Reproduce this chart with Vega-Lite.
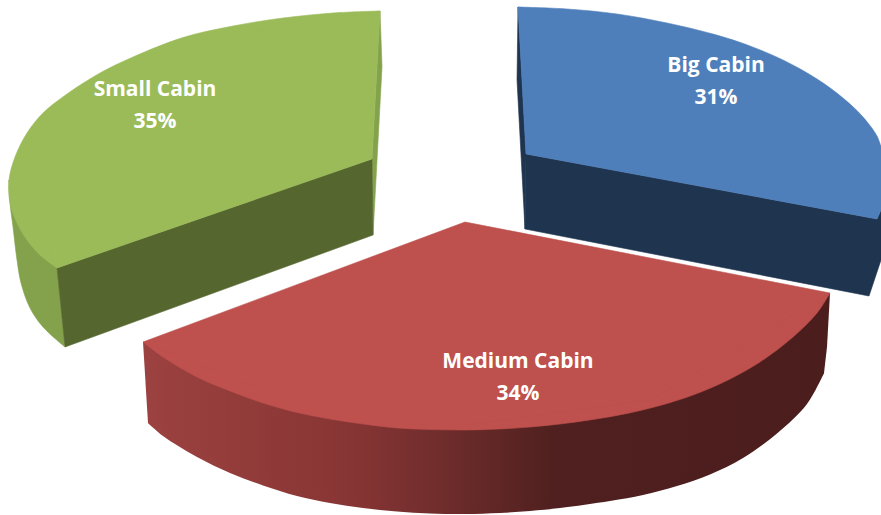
{
  "$schema": "https://vega.github.io/schema/vega-lite/v6.json",
  "width": 881,
  "height": 515,
  "padding": 0,
  "autosize": {"type": "none"},
  "background": "white",
  "config": {"view": {"stroke": null}},
  "datasets": {
    "redRimEdge": [
      {"i":1,"x":148,"y":423},{"i":2,"x":163,"y":436},{"i":3,"x":197,"y":457},{"i":4,"x":230,"y":473},{"i":5,"x":263,"y":485.5},{"i":6,"x":297,"y":496},{"i":7,"x":330,"y":503},{"i":8,"x":363,"y":508},{"i":9,"x":397,"y":511.5},{"i":10,"x":430,"y":513.5},{"i":11,"x":465,"y":514},{"i":12,"x":500,"y":513},{"i":13,"x":530,"y":511},{"i":14,"x":560,"y":508},{"i":15,"x":610,"y":501},{"i":16,"x":643,"y":495},{"i":17,"x":677,"y":486},{"i":18,"x":710,"y":474.5},{"i":19,"x":743,"y":458},{"i":20,"x":777,"y":433.5},{"i":21,"x":807,"y":404},{"i":22,"x":824,"y":373}
    ],
    "redRimBody": [
      {"i":1,"x":143,"y":342},{"i":2,"x":830,"y":293},{"i":3,"x":827,"y":347},{"i":4,"x":824,"y":373},{"i":5,"x":805,"y":402},{"i":6,"x":775,"y":431},{"i":7,"x":740,"y":455},{"i":8,"x":600,"y":498},{"i":9,"x":400,"y":508},{"i":10,"x":230,"y":468},{"i":11,"x":165,"y":433},{"i":12,"x":148,"y":423}
    ],
    "flatFaces": [
      {"face":"greenRim","i":1,"x":9,"y":180},{"face":"greenRim","i":2,"x":14,"y":225},{"face":"greenRim","i":3,"x":28,"y":285},{"face":"greenRim","i":4,"x":65,"y":347},{"face":"greenRim","i":5,"x":57,"y":268},
      {"face":"greenStrip","i":1,"x":380,"y":11},{"face":"greenStrip","i":2,"x":382,"y":67},{"face":"greenStrip","i":3,"x":373,"y":235},{"face":"greenStrip","i":4,"x":372,"y":159},
      {"face":"greenCut","i":1,"x":57,"y":268},{"face":"greenCut","i":2,"x":372,"y":159},{"face":"greenCut","i":3,"x":373,"y":235},{"face":"greenCut","i":4,"x":65,"y":347},
      {"face":"blueStrip","i":1,"x":518,"y":7},{"face":"blueStrip","i":2,"x":517,"y":80},{"face":"blueStrip","i":3,"x":525,"y":229},{"face":"blueStrip","i":4,"x":526,"y":154},
      {"face":"blueCut","i":1,"x":526,"y":154},{"face":"blueCut","i":2,"x":877,"y":219},{"face":"blueCut","i":3,"x":881,"y":210},{"face":"blueCut","i":4,"x":881,"y":260},{"face":"blueCut","i":5,"x":869,"y":296},{"face":"blueCut","i":6,"x":525,"y":229}
    ],
    "curvedEdges": [
      {"face":"greenRim","i":1,"x":9,"y":180},{"face":"greenRim","i":2,"x":10,"y":203},{"face":"greenRim","i":3,"x":13,"y":227},{"face":"greenRim","i":4,"x":17,"y":260},{"face":"greenRim","i":5,"x":21,"y":283},{"face":"greenRim","i":6,"x":30,"y":308},{"face":"greenRim","i":7,"x":43,"y":327},{"face":"greenRim","i":8,"x":65,"y":347},

      {"face":"greenTop","i":1,"x":380,"y":11},{"face":"greenTop","i":2,"x":333,"y":13},{"face":"greenTop","i":3,"x":283,"y":18},{"face":"greenTop","i":4,"x":233,"y":26},{"face":"greenTop","i":5,"x":183,"y":37.5},{"face":"greenTop","i":6,"x":133,"y":57},{"face":"greenTop","i":7,"x":100,"y":73},{"face":"greenTop","i":8,"x":67,"y":94},{"face":"greenTop","i":9,"x":43,"y":113},{"face":"greenTop","i":10,"x":27,"y":133},{"face":"greenTop","i":11,"x":15,"y":157},{"face":"greenTop","i":12,"x":9,"y":180},{"face":"greenTop","i":13,"x":10,"y":203},{"face":"greenTop","i":14,"x":17,"y":223},{"face":"greenTop","i":15,"x":27,"y":240},{"face":"greenTop","i":16,"x":40,"y":255},{"face":"greenTop","i":17,"x":57,"y":268},

      {"face":"blueTop","i":1,"x":518,"y":7},{"face":"blueTop","i":2,"x":567,"y":9},{"face":"blueTop","i":3,"x":617,"y":14},{"face":"blueTop","i":4,"x":667,"y":23},{"face":"blueTop","i":5,"x":720,"y":36},{"face":"blueTop","i":6,"x":750,"y":46},{"face":"blueTop","i":7,"x":783,"y":60},{"face":"blueTop","i":8,"x":817,"y":79},{"face":"blueTop","i":9,"x":843,"y":98},{"face":"blueTop","i":10,"x":863,"y":117},{"face":"blueTop","i":11,"x":877,"y":136},{"face":"blueTop","i":12,"x":881,"y":147},

      {"face":"redTop","i":1,"x":143,"y":342},{"face":"redTop","i":2,"x":163,"y":357},{"face":"redTop","i":3,"x":197,"y":377},{"face":"redTop","i":4,"x":230,"y":391},{"face":"redTop","i":5,"x":263,"y":403},{"face":"redTop","i":6,"x":297,"y":412.5},{"face":"redTop","i":7,"x":330,"y":419},{"face":"redTop","i":8,"x":363,"y":424},{"face":"redTop","i":9,"x":397,"y":428},{"face":"redTop","i":10,"x":430,"y":429.5},{"face":"redTop","i":11,"x":465,"y":430},{"face":"redTop","i":12,"x":500,"y":429},{"face":"redTop","i":13,"x":530,"y":427},{"face":"redTop","i":14,"x":560,"y":424},{"face":"redTop","i":15,"x":593,"y":419.5},{"face":"redTop","i":16,"x":627,"y":413.5},{"face":"redTop","i":17,"x":660,"y":405.5},{"face":"redTop","i":18,"x":693,"y":395},{"face":"redTop","i":19,"x":727,"y":380.5},{"face":"redTop","i":20,"x":760,"y":362},{"face":"redTop","i":21,"x":793,"y":337},{"face":"redTop","i":22,"x":817,"y":313},{"face":"redTop","i":23,"x":830,"y":293}
    ],
    "topCores": [
      {"face":"greenTop","i":1,"x":380,"y":11},{"face":"greenTop","i":2,"x":200,"y":40},{"face":"greenTop","i":3,"x":60,"y":110},{"face":"greenTop","i":4,"x":20,"y":190},{"face":"greenTop","i":5,"x":57,"y":268},{"face":"greenTop","i":6,"x":372,"y":159},
      {"face":"blueTop","i":1,"x":518,"y":7},{"face":"blueTop","i":2,"x":700,"y":36},{"face":"blueTop","i":3,"x":850,"y":110},{"face":"blueTop","i":4,"x":875,"y":137},{"face":"blueTop","i":5,"x":881,"y":147},{"face":"blueTop","i":6,"x":881,"y":210},{"face":"blueTop","i":7,"x":877,"y":219},{"face":"blueTop","i":8,"x":526,"y":154},
      {"face":"redTop","i":1,"x":143,"y":342},{"face":"redTop","i":2,"x":300,"y":405},{"face":"redTop","i":3,"x":465,"y":425},{"face":"redTop","i":4,"x":650,"y":400},{"face":"redTop","i":5,"x":830,"y":293},{"face":"redTop","i":6,"x":465,"y":222}
    ],
    "slices": [
      {"cabin":"Small Cabin","share":0.35,"x":155,"y":106},
      {"cabin":"Big Cabin","share":0.31,"x":716,"y":82},
      {"cabin":"Medium Cabin","share":0.34,"x":518,"y":378}
    ]
  },
  "layer": [
    {
      "data": {"name": "redRimEdge"},
      "mark": {
        "type": "line", "interpolate": "catmull-rom", "strokeWidth": 0,
        "fill": {"gradient": "linear", "x1": 0, "y1": 0, "x2": 1, "y2": 0, "stops": [
          {"offset": 0, "color": "#9C4240"},
          {"offset": 0.3, "color": "#873534"},
          {"offset": 0.42, "color": "#722E2D"},
          {"offset": 0.6, "color": "#4F201F"},
          {"offset": 1, "color": "#4B1D1C"}
        ]}
      },
      "encoding": {
        "x": {"field": "x", "type": "quantitative", "axis": null, "scale": {"domain": [0, 881], "nice": false, "zero": false}},
        "y": {"field": "y", "type": "quantitative", "axis": null, "scale": {"domain": [515, 0], "nice": false, "zero": false}},
        "order": {"field": "i", "type": "ordinal"}
      }
    },
    {
      "data": {"name": "redRimBody"},
      "mark": {
        "type": "line", "interpolate": "linear-closed", "strokeWidth": 0,
        "fill": {"gradient": "linear", "x1": 0, "y1": 0, "x2": 1, "y2": 0, "stops": [
          {"offset": 0, "color": "#9C4240"},
          {"offset": 0.3, "color": "#873534"},
          {"offset": 0.42, "color": "#722E2D"},
          {"offset": 0.6, "color": "#4F201F"},
          {"offset": 1, "color": "#4B1D1C"}
        ]}
      },
      "encoding": {
        "x": {"field": "x", "type": "quantitative"},
        "y": {"field": "y", "type": "quantitative"},
        "order": {"field": "i", "type": "ordinal"}
      }
    },
    {
      "data": {"name": "flatFaces"},
      "mark": {"type": "line", "interpolate": "linear-closed", "strokeWidth": 0.6},
      "encoding": {
        "x": {"field": "x", "type": "quantitative"},
        "y": {"field": "y", "type": "quantitative"},
        "order": {"field": "i", "type": "ordinal"},
        "detail": {"field": "face"},
        "fill": {"field": "face", "type": "nominal", "legend": null, "scale": {"domain": ["greenRim","greenStrip","greenCut","greenTop","blueStrip","blueCut","blueTop","redTop"], "range": ["#84A24C","#84A24C","#55672F","#9BBB59","#1F344F","#1F344F","#4F7FBA","#BE504D"]}},
        "stroke": {"field": "face", "type": "nominal", "legend": null, "scale": {"domain": ["greenRim","greenStrip","greenCut","greenTop","blueStrip","blueCut","blueTop","redTop"], "range": ["#84A24C","#84A24C","#55672F","#9BBB59","#1F344F","#1F344F","#4F7FBA","#BE504D"]}}
      }
    },
    {
      "data": {"name": "curvedEdges"},
      "mark": {"type": "line", "interpolate": "catmull-rom", "strokeWidth": 0.6},
      "encoding": {
        "x": {"field": "x", "type": "quantitative"},
        "y": {"field": "y", "type": "quantitative"},
        "order": {"field": "i", "type": "ordinal"},
        "detail": {"field": "face"},
        "fill": {"field": "face", "type": "nominal", "legend": null},
        "stroke": {"field": "face", "type": "nominal", "legend": null}
      }
    },
    {
      "data": {"name": "topCores"},
      "mark": {"type": "line", "interpolate": "linear-closed", "strokeWidth": 0.6},
      "encoding": {
        "x": {"field": "x", "type": "quantitative"},
        "y": {"field": "y", "type": "quantitative"},
        "order": {"field": "i", "type": "ordinal"},
        "detail": {"field": "face"},
        "fill": {"field": "face", "type": "nominal", "legend": null},
        "stroke": {"field": "face", "type": "nominal", "legend": null}
      }
    },
    {
      "data": {"name": "slices"},
      "mark": {"type": "text", "font": "Open Sans", "fontWeight": "bold", "fontSize": 21, "color": "white", "dy": -16, "align": "center", "baseline": "middle"},
      "encoding": {
        "x": {"field": "x", "type": "quantitative"},
        "y": {"field": "y", "type": "quantitative"},
        "text": {"field": "cabin"}
      }
    },
    {
      "data": {"name": "slices"},
      "mark": {"type": "text", "font": "Open Sans", "fontWeight": "bold", "fontSize": 21, "color": "white", "dy": 16, "align": "center", "baseline": "middle"},
      "encoding": {
        "x": {"field": "x", "type": "quantitative"},
        "y": {"field": "y", "type": "quantitative"},
        "text": {"field": "share", "type": "quantitative", "format": ".0%"}
      }
    }
  ]
}
